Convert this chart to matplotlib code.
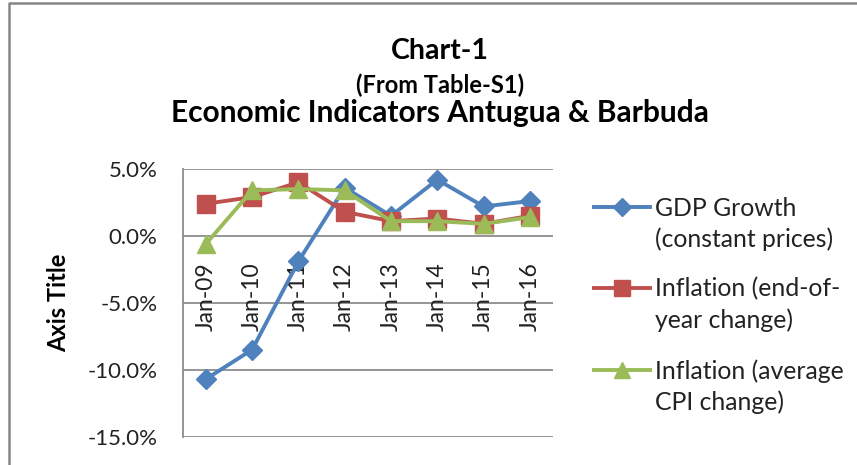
import matplotlib
matplotlib.use('Agg')
import matplotlib.pyplot as plt
from matplotlib.lines import Line2D
from matplotlib.ticker import PercentFormatter

plt.rcParams['font.family'] = ['Lato', 'DejaVu Sans']
plt.rcParams['axes.unicode_minus'] = False

years = ['Jan-09', 'Jan-10', 'Jan-11', 'Jan-12', 'Jan-13', 'Jan-14', 'Jan-15', 'Jan-16']
gdp_growth = [-10.7, -8.5, -1.9, 3.6, 1.5, 4.2, 2.2, 2.6]
infl_eoy = [2.4, 2.9, 4.0, 1.8, 1.1, 1.3, 0.9, 1.5]
infl_avg = [-0.6, 3.4, 3.5, 3.4, 1.1, 1.1, 0.9, 1.4]

labels = [['GDP Growth', '(constant prices)'],
          ['Inflation (end-of-', 'year change)'],
          ['Inflation (average', 'CPI change)']]
colors = ['#4F81BD', '#C0504D', '#9BBB59']
markers = ['D', 's', '^']
msizes = [10, 13, 13]

fig = plt.figure(figsize=(8.57, 4.65), dpi=100)
ax = fig.add_axes([0.2132, 0.0609, 0.4321, 0.5757])

x = range(len(years))
series = [gdp_growth, infl_eoy, infl_avg]
for vals, c, m, ms in zip(series, colors, markers, msizes):
    ax.plot(x, vals, color=c, lw=2.8, marker=m, ms=ms, mec=c, mfc=c, zorder=3)

ax.set_xlim(-0.5, len(years) - 0.5)
ax.set_ylim(-15, 5)
ax.set_yticks([-15, -10, -5, 0, 5])
ax.yaxis.set_major_formatter(PercentFormatter(decimals=1))
ax.grid(axis='y', color='#8C8C8C', lw=1.3)
ax.set_axisbelow(True)
ax.set_xticks([])
for s in ['top', 'right', 'bottom']:
    ax.spines[s].set_visible(False)
ax.spines['left'].set_color('#8C8C8C')
ax.spines['left'].set_linewidth(1.3)
ax.tick_params(axis='y', length=0, labelsize=16, pad=18, labelcolor='#222222')

# category labels hang below the zero line, behind the lines
for i, lab in enumerate(years):
    ax.annotate(lab, (i, 0), xytext=(0, -19), textcoords='offset points',
                rotation=90, ha='center', va='top', fontsize=16.5, color='#222222',
                zorder=1)

ax.set_ylabel('Axis Title', fontsize=17, fontweight='bold', labelpad=13)

fig.text(0.513, 0.873, 'Chart-1', ha='center', va='baseline', fontsize=20.5, fontweight='bold')
fig.text(0.513, 0.800, '(From Table-S1)', ha='center', va='baseline', fontsize=17, fontweight='bold')
fig.text(0.513, 0.738, 'Economic Indicators Antugua & Barbuda', ha='center', va='baseline',
         fontsize=21.5, fontweight='bold')

# legend, handle aligned with first text line
line_y = [207, 288, 370]
for c, m, ms, lab, yy in zip(colors, markers, msizes, labels, line_y):
    fy = 1 - yy / 465
    fig.add_artist(Line2D([594 / 857, 650 / 857], [fy, fy], transform=fig.transFigure,
                          color=c, lw=2.8))
    fig.add_artist(Line2D([622 / 857], [fy], transform=fig.transFigure, color=c,
                          marker=m, ms=ms - 1, mec=c, mfc=c))
    for k, txt in enumerate(lab):
        fig.text(655 / 857, 1 - (yy + 8.5 + 31 * k) / 465, txt, ha='left', va='baseline',
                 fontsize=17.8, color='#222222')

# outer chart frame
fig.add_artist(Line2D([0.0105, 0.0105, 1.0], [0.0, 0.9935, 0.9935], transform=fig.transFigure,
                      color='#868686', lw=1.8))

fig.savefig('out.png', dpi=100)
